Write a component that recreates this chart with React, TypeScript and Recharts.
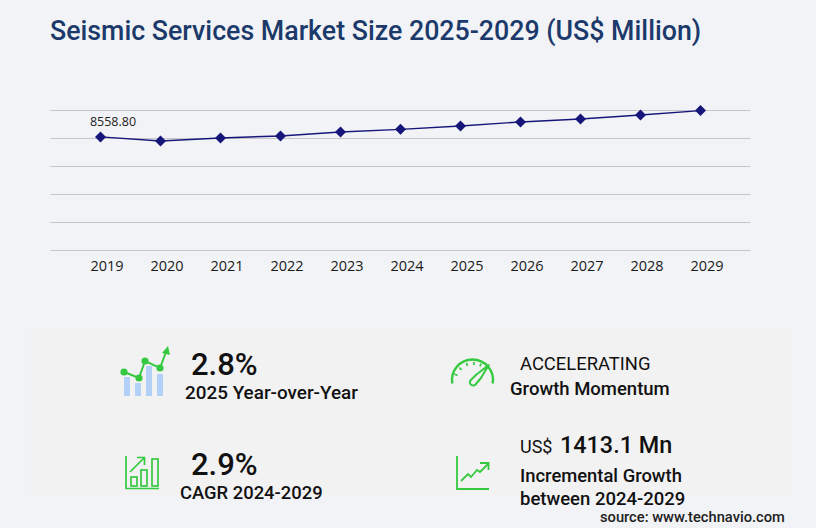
import { CartesianGrid, Line, LineChart, XAxis, YAxis } from "recharts";

const years = ["2019", "2020", "2021", "2022", "2023", "2024", "2025", "2026", "2027", "2028", "2029"];
const marketSize = [8558.8, 8257, 8483, 8634, 8935, 9130, 9386, 9687, 9913, 10214, 10543];
const yTicks = [0, 2110, 4220, 6330, 8440, 10550];

const points = years.map((year, i) => ({ year, value: marketSize[i] }));

const NAVY = "#15157a";
const GREEN = "#35c93f";

function Diamond({ cx, cy }: any) {
  return <path d={`M${cx} ${cy - 5.5}L${cx + 5.5} ${cy}L${cx} ${cy + 5.5}L${cx - 5.5} ${cy}Z`} fill={NAVY} />;
}

function FirstLabel({ x, y, index, value }: any) {
  if (index !== 0) return null;
  return (
    <text x={x + 12.5} y={y - 11} textAnchor="middle" fontFamily="'Open Sans'" fontSize={13} fill="#222" textLength={46} lengthAdjust="spacingAndGlyphs">
      {Number(value).toFixed(2)}
    </text>
  );
}

function Txt({ x, y, size, weight = 500, color = "#111", children }: any) {
  return (
    <div
      style={{
        position: "absolute",
        left: x,
        top: y,
        fontFamily: "Roboto",
        fontSize: size,
        fontWeight: weight,
        color,
        lineHeight: 1,
        whiteSpace: "nowrap",
      }}
    >
      {children}
    </div>
  );
}

function BarsIcon() {
  return (
    <svg width={56} height={56} style={{ position: "absolute", left: 118, top: 346 }}>
      <g fill="#b3d1f8">
        <rect x={6} y={31} width={6} height={19} />
        <rect x={17} y={37} width={6} height={13} />
        <rect x={28} y={20} width={6} height={30} />
        <rect x={39} y={28} width={6} height={22} />
      </g>
      <polyline points="6,26 21,32 27,15 42,22 48,6" fill="none" stroke={GREEN} strokeWidth={2} />
      <g fill={GREEN}>
        <circle cx={6} cy={26} r={3.6} />
        <circle cx={21} cy={32} r={3.6} />
        <circle cx={27} cy={15} r={3.6} />
        <circle cx={42} cy={22} r={3.6} />
        <path d="M50 0L52 9L44 7Z" />
      </g>
    </svg>
  );
}

function GaugeIcon() {
  return (
    <svg width={50} height={40} style={{ position: "absolute", left: 448, top: 356 }}>
      <path d="M4.3 27.5A20.5 20.5 0 1 1 44.7 27.5" fill="none" stroke={GREEN} strokeWidth={2.4} />
      <g stroke={GREEN} strokeWidth={1.7}>
        <path d="M6.5 18L9.5 19.5M11.5 11.5L13.5 14M18.5 7L19.5 10M26 6L26 9M33 7.5L32 10.5" />
      </g>
      <path d="M40.7 9L28.5 18.5L22.8 24A3.2 3.2 0 0 0 27.5 28.5L33 22Z" fill="none" stroke={GREEN} strokeWidth={2} strokeLinejoin="round" />
    </svg>
  );
}

function CagrIcon() {
  return (
    <svg width={36} height={36} style={{ position: "absolute", left: 125, top: 455 }}>
      <g fill="none" stroke={GREEN} strokeWidth={1.7}>
        <path d="M1 1V33.5H34" />
        <rect x={6} y={22} width={6} height={9} />
        <rect x={16} y={15} width={6} height={16} />
        <rect x={27} y={4} width={6} height={27} />
        <path d="M5 17L19 3M12 2.5H19.5V10" />
      </g>
    </svg>
  );
}

function GrowthIcon() {
  return (
    <svg width={36} height={36} style={{ position: "absolute", left: 455, top: 455 }}>
      <g fill="none" stroke={GREEN} strokeWidth={1.8}>
        <path d="M2 1V34H34" />
        <path d="M6 26L13 19L16 22L22 15L25 17L33 9" />
        <path d="M25 8H33.5V15" />
      </g>
    </svg>
  );
}

export default function App() {
  return (
    <div style={{ position: "absolute", left: 0, top: 0, width: 816, height: 528, background: "#f2f3f6", overflow: "hidden" }}>
      <style>{`body{margin:0}`}</style>
      <div style={{ position: "absolute", left: 31, top: 330, width: 760, height: 165, background: "#f2f2f3" }} />
      <Txt x={50} y={18} size={26.75} color="#1b3a6b">
        Seismic Services Market Size 2025-2029 (US$ Million)
      </Txt>

      <div style={{ position: "absolute", left: 0, top: 0 }}>
        {/* half pixel margins keep the 1px grid lines crisp */}
        <LineChart width={816} height={300} data={points} margin={{ top: 110.5, right: 65.5, left: 50.5, bottom: -0.5 }}>
          <CartesianGrid vertical={false} stroke="#c6c6c9" strokeWidth={1} />
          <XAxis
            dataKey="year"
            padding={{ left: 50, right: 50 }}
            axisLine={false}
            tickLine={false}
            tick={{ fontSize: 14.5, fontFamily: "'Open Sans'", fill: "#1a1a1a", dx: 6.5, dy: 2 }}
            interval={0}
            height={50}
          />
          <YAxis hide domain={[0, 10550]} ticks={yTicks} />
          <Line
            dataKey="value"
            stroke={NAVY}
            strokeWidth={1.4}
            dot={(p: any) => <Diamond key={p.index} cx={p.cx} cy={p.cy} />}
            label={(p: any) => <FirstLabel key={p.index} {...p} />}
            isAnimationActive={false}
          />
        </LineChart>
      </div>

      <BarsIcon />
      <GaugeIcon />
      <CagrIcon />
      <GrowthIcon />

      <Txt x={191} y={349} size={31}>2.8%</Txt>
      <Txt x={185} y={384} size={18.9}>2025 Year-over-Year</Txt>
      <Txt x={191} y={449} size={31}>2.9%</Txt>
      <Txt x={180} y={484} size={18.4}>CAGR 2024-2029</Txt>

      <Txt x={520} y={355} size={18.4} weight={400}>ACCELERATING</Txt>
      <Txt x={510} y={380} size={18.5}>Growth Momentum</Txt>
      <Txt x={520} y={434} size={23.4}>
        <span style={{ fontSize: 18, fontWeight: 400, marginRight: 3 }}>US$ </span>1413.1 Mn
      </Txt>
      <Txt x={520} y={467} size={18.4}>Incremental Growth</Txt>
      <Txt x={520} y={490} size={18.5}>between 2024-2029</Txt>
      <Txt x={600} y={510} size={14.7} color="#222">source: www.technavio.com</Txt>
    </div>
  );
}
